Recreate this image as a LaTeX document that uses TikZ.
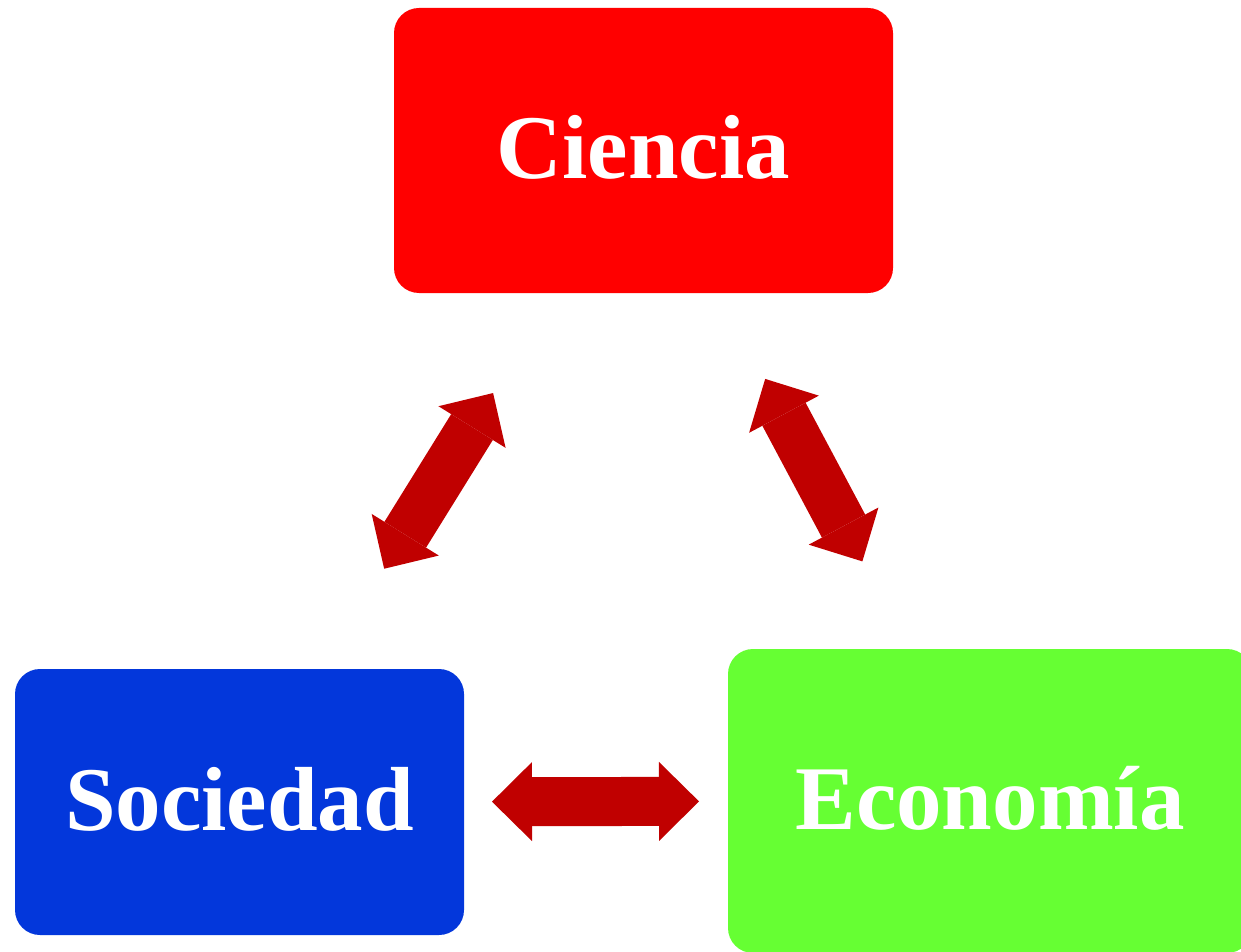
\documentclass[tikz,border=0pt]{standalone}
\usepackage{fontspec}
\setmainfont{Liberation Serif}
\usetikzlibrary{arrows.meta}
\definecolor{boxred}{HTML}{FF0000}
\definecolor{boxblue}{HTML}{0337DB}
\definecolor{boxgreen}{HTML}{66FF33}
\definecolor{linkred}{HTML}{C00000}
\begin{document}
\begin{tikzpicture}[x=1pt,y=-1pt]
\tikzstyle{box} = [rounded corners=25pt,text=white,inner sep=0pt,text depth=7pt,font=\fontsize{91}{100}\selectfont\bfseries]
\tikzstyle{link} = [draw=linkred,line width=49pt,{Triangle[length=40pt,width=79pt,line width=0pt]}-{Triangle[length=40pt,width=79pt,line width=0pt]}]

\useasboundingbox (0,0) rectangle (1241,952);
\clip (0,0) rectangle (1241,952);

\node[box,fill=boxred,minimum width=499pt,minimum height=285pt] (cie) at (643.5,150.5) {Ciencia};
\node[box,fill=boxblue,minimum width=449pt,minimum height=266pt] (soc) at (239.5,802) {Sociedad};
\node[box,fill=boxgreen,minimum width=524pt,minimum height=304pt] (eco) at (990,801) {Economía};

\draw[link,shorten <=274.5pt,shorten >=285.4pt] (soc.center) -- (cie.center);
\draw[link,shorten <=258.8pt,shorten >=271.5pt] (cie.center) -- (eco.center);
\draw[link,shorten <=252.5pt,shorten >=291pt] (soc.center) -- (eco.center);
\end{tikzpicture}
\end{document}
